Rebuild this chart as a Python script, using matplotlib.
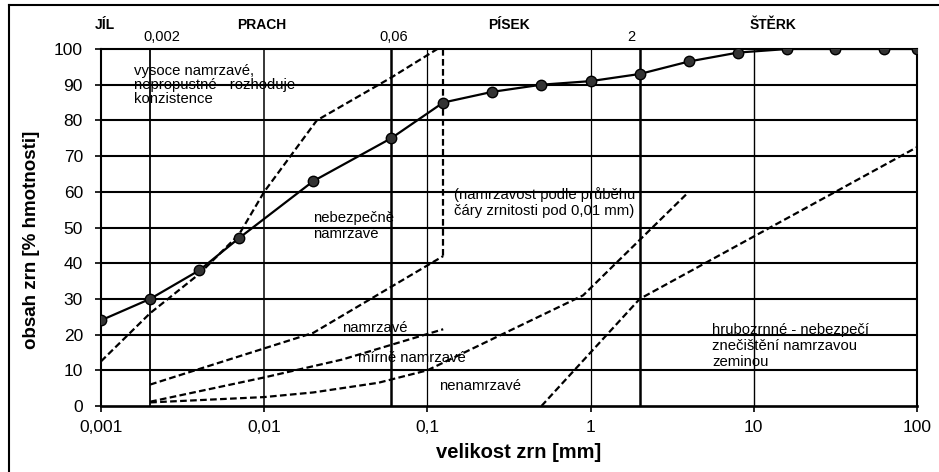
import matplotlib.pyplot as plt
from matplotlib.lines import Line2D

plt.rcParams['font.family'] = ['Liberation Sans', 'DejaVu Sans']

# --- data: čára zrnitosti (velikost zrn [mm], propad [%]) ---
velikost = [0.001, 0.002, 0.004, 0.007, 0.02, 0.06, 0.125, 0.25, 0.5, 1, 2, 4, 8, 16, 31.5, 63, 100]
propad = [24, 30, 38, 47, 63, 75, 85, 88, 90, 91, 93, 96.5, 99, 100, 100, 100, 100]

# hranice oblastí namrzavosti (čárkované)
hr_vysoce_x = [0.001, 0.002, 0.004, 0.007, 0.01, 0.021, 0.06, 0.115]
hr_vysoce_y = [12.5, 26, 37, 48, 60, 80, 92, 100]
hr_svisla_x = [0.125, 0.125]
hr_svisla_y = [100, 42]
hr_namrz_x = [0.002, 0.02, 0.125]
hr_namrz_y = [6, 20.5, 42]
hr_mirne_x = [0.002, 0.01, 0.03, 0.125]
hr_mirne_y = [1.2, 8, 13, 21.5]
hr_nenamrz_x = [0.002, 0.01, 0.02, 0.05, 0.1, 0.9, 4]
hr_nenamrz_y = [1, 2.5, 3.8, 6.5, 10, 31, 60]
hr_hrubo_x = [0.5, 2, 100]
hr_hrubo_y = [0, 30, 72.5]

# svislé čáry mřížky a hranice frakcí
svisle = [0.002, 0.01, 0.06, 0.1, 1, 2, 10]
svisle_lw = [1.3, 1.1, 1.8, 0.9, 0.9, 1.8, 1.0]

frakce = ['JÍL', 'PRACH', 'PÍSEK', 'ŠTĚRK']
frakce_x = [0.00106, 0.0097, 0.318, 13.2]
meze = ['0,002', '0,06', '2']
meze_x = [0.00236, 0.062, 1.77]

x_ticks = [0.001, 0.01, 0.1, 1, 10, 100]
x_labels = ['0,001', '0,01', '0,1', '1', '10', '100']
y_ticks = list(range(0, 101, 10))

fig = plt.figure(figsize=(9.39, 4.72), dpi=100)
ax = fig.add_axes([101 / 939, 1 - 406 / 472, 816 / 939, 357 / 472])

ax.set_xscale('log')
ax.set_xlim(0.001, 100)
ax.set_ylim(0, 100)

# mřížka
for yy in y_ticks[1:-1]:
    ax.axhline(yy, color='black', lw=1.5, zorder=1)
for xx, lw in zip(svisle, svisle_lw):
    ax.axvline(xx, color='black', lw=lw, zorder=1)

# čárkované hranice
dash = (0, (3.0, 1.5))
for xs, ys in [(hr_vysoce_x, hr_vysoce_y), (hr_svisla_x, hr_svisla_y),
               (hr_namrz_x, hr_namrz_y), (hr_mirne_x, hr_mirne_y),
               (hr_nenamrz_x, hr_nenamrz_y), (hr_hrubo_x, hr_hrubo_y)]:
    ax.plot(xs, ys, color='black', lw=1.6, linestyle=dash, zorder=2)

# čára zrnitosti
ax.plot(velikost, propad, color='black', lw=1.6, marker='o', markersize=7.5,
        markerfacecolor='#333333', markeredgecolor='black', zorder=4)

# osy
ax.set_xticks(x_ticks)
ax.set_xticklabels(x_labels)
ax.set_yticks(y_ticks)
ax.minorticks_off()
ax.tick_params(axis='both', labelsize=12.5, length=4, width=1.2, color='black')
ax.tick_params(axis='y', pad=9)
ax.tick_params(axis='x', pad=6)
for s in ax.spines.values():
    s.set_linewidth(1.5)
ax.spines['bottom'].set_linewidth(1.9)

# popisy oblastí
txt = dict(fontsize=10.7, color='black', zorder=5)
ax.text(0.0016, 90, 'vysoce namrzavé,\nnepropustné - rozhoduje\nkonzistence',
        va='center', ha='left', linespacing=1.0, **txt)
ax.text(0.0198, 50.5, 'nebezpečně\nnamrzavé', va='center', ha='left', linespacing=1.15, **txt)
ax.text(0.146, 57, '(namrzavost podle průběhu\nčáry zrnitosti pod 0,01 mm)',
        va='center', ha='left', linespacing=1.2, **txt)
ax.text(0.0302, 21.8, 'namrzavé', va='center', ha='left', **txt)
ax.text(0.0373, 13.4, 'mírně namrzavé', va='center', ha='left', **txt)
ax.text(0.118, 5.6, 'nenamrzavé', va='center', ha='left', **txt)
ax.text(5.54, 16.8, 'hrubozrnné - nebezpečí\nznečištění namrzavou\nzeminou',
        va='center', ha='left', linespacing=1.2, **txt)

# frakce nad grafem
tr = ax.get_xaxis_transform()
for nazev, xx in zip(frakce, frakce_x):
    ax.text(xx, 1.067, nazev, transform=tr, ha='center', va='center',
            fontsize=10, fontweight='bold')
for nazev, xx in zip(meze, meze_x):
    ax.text(xx, 1.034, nazev, transform=tr, ha='center', va='center', fontsize=10.5)

fig.text(519 / 939, 1 - 453 / 472, 'velikost zrn [mm]', ha='center', va='center',
         fontsize=14.5, fontweight='bold')
fig.text(32 / 939, 1 - 240 / 472, 'obsah zrn [% hmotnosti]', ha='center', va='center',
         rotation=90, fontsize=13.5, fontweight='bold')

# rámeček kolem obrázku
fig.add_artist(Line2D([9 / 939, 9 / 939], [0, 1 - 5 / 472], color='black', lw=1.5))
fig.add_artist(Line2D([9 / 939, 1], [1 - 5 / 472, 1 - 5 / 472], color='black', lw=1.5))

fig.savefig('out.png', dpi=100)
